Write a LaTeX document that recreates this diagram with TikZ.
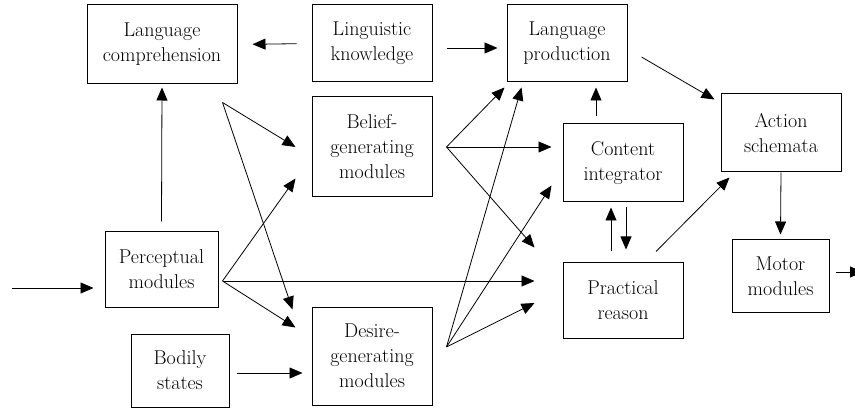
\documentclass[tikz,border=0pt]{standalone}
\usepackage{fontspec}
\setmainfont{Latin Modern Roman}
\usepackage{tikz}
\usetikzlibrary{arrows.meta}

\tikzset{
  box/.style={draw, line width=1pt, align=center, inner sep=2pt,
    font=\fontsize{20}{25}\selectfont},
  arr/.style={line width=0.8pt, -{Triangle[length=13pt,width=11pt]}},
}

\begin{document}
\begin{tikzpicture}[x=1pt,y=-1pt]
    \useasboundingbox (0,0) rectangle (855,409);

    % boxes
    \node[box, minimum width=150pt, minimum height=79pt] (lcomp) at (162,44.5) {Language\\comprehension};
    \node[box, minimum width=120pt, minimum height=77pt] (lknow) at (372,43.5) {Linguistic\\knowledge};
    \node[box, minimum width=120pt, minimum height=77pt] (lprod) at (567,43.5) {Language\\production};
    \node[box, minimum width=120pt, minimum height=100pt] (belief) at (372,147) {Belief-\\generating\\modules};
    \node[box, minimum width=120pt, minimum height=78pt] (content) at (623,163) {Content\\integrator};
    \node[box, minimum width=120pt, minimum height=78pt] (action) at (781,133) {Action\\schemata};
    \node[box, minimum width=113pt, minimum height=75pt] (percep) at (161.5,269.5) {Perceptual\\modules};
    \node[box, minimum width=98pt, minimum height=73pt] (bodily) at (180,370.5) {Bodily\\states};
    \node[box, minimum width=120pt, minimum height=98pt] (desire) at (372,356) {Desire-\\generating\\modules};
    \node[box, minimum width=120pt, minimum height=76pt] (practical) at (623,300) {Practical\\reason};
    \node[box, minimum width=97pt, minimum height=72pt] (motor) at (780.5,276) {Motor\\modules};

    % fan points and free ends
    \coordinate (cfan) at ([xshift=-15pt,yshift=-18pt]lcomp.south east);
    \coordinate (pfan) at ([xshift=4pt,yshift=-11.5pt]percep.east);
    \coordinate (bfan) at ([xshift=14pt]belief.east);
    \coordinate (dfan) at ([xshift=14pt,yshift=9pt]desire.east);
    \coordinate (in) at (12,288);
    \coordinate (out) at (863,272);

    % top row
    \draw[arr, shorten <=15pt, shorten >=15pt] (lknow.west) -- (lcomp.east);
    \draw[arr] ([xshift=14pt,yshift=-4.5pt]lknow.east) -- ([xshift=-9pt,yshift=-4.5pt]lprod.west);
    \draw[arr] ([yshift=10pt]percep.north) -- ([yshift=-3pt]lcomp.south);

    % comprehension fan
    \draw[arr] (cfan) -- ([xshift=-16pt]belief.west);
    \draw[arr] (cfan) -- ([xshift=-19pt,yshift=-3pt]desire.north west);

    % perception fan
    \draw[arr] (in) -- ([xshift=-11pt,yshift=-18.5pt]percep.west);
    \draw[arr] (pfan) -- ([xshift=-16pt,yshift=19pt]belief.south west);
    \draw[arr] (pfan) -- ([xshift=-28pt,yshift=19pt]practical.west);
    \draw[arr] (pfan) -- ([xshift=-16pt,yshift=-21pt]desire.north west);
    \draw[arr] ([xshift=7pt,yshift=-2.5pt]bodily.east) -- ([xshift=-9pt,yshift=-17pt]desire.west);

    % belief fan
    \draw[arr] (bfan) -- ([xshift=-2pt,yshift=-5pt]lprod.south west);
    \draw[arr] (bfan) -- ([xshift=-11pt,yshift=16pt]content.west);
    \draw[arr] (bfan) -- ([xshift=-28pt,yshift=14pt]practical.north west);

    % desire fan
    \draw[arr] (dfan) -- ([xshift=15pt,yshift=-5pt]lprod.south west);
    \draw[arr] (dfan) -- ([xshift=-11pt,yshift=17pt]content.south west);
    \draw[arr] (dfan) -- ([xshift=-28pt,yshift=-3pt]practical.west);

    % right part
    \draw[arr] ([xshift=-27pt,yshift=7pt]content.north) -- ([xshift=29pt,yshift=-5pt]lprod.south);
    \draw[arr] ([xshift=-12pt,yshift=10pt]practical.north) -- ([xshift=-12pt,yshift=-5pt]content.south);
    \draw[arr] ([xshift=3pt,yshift=-5pt]content.south) -- ([xshift=3pt,yshift=12pt]practical.north);
    \draw[arr] ([xshift=14pt,yshift=-13.5pt]lprod.east) -- ([xshift=-6pt,yshift=-6pt]action.north west);
    \draw[arr] ([xshift=33pt,yshift=10pt]practical.north) -- ([xshift=9pt,yshift=-5pt]action.south west);
    \draw[arr] (action.south) -- ([yshift=5pt]motor.north);
    \draw[arr] ([xshift=6pt,yshift=4pt]motor.east) -- (out);
\end{tikzpicture}
\end{document}
